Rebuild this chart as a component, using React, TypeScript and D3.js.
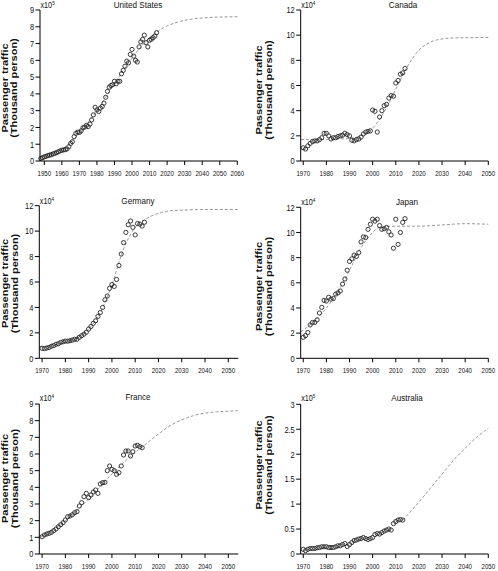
import React from "react";
import * as d3 from "d3";

// ---------- DATA ----------
const usStart = 1948;
const usValues = [0.15, 0.2, 0.25, 0.28, 0.32, 0.35, 0.38, 0.42, 0.46, 0.5, 0.55, 0.6, 0.64, 0.66, 0.68, 0.72, 0.85, 1.05, 1.15, 1.45, 1.65, 1.72, 1.7, 1.8, 1.98, 2.02, 2.12, 2.05, 2.2, 2.45, 2.75, 3.2, 3.05, 2.95, 3.15, 3.25, 3.45, 3.8, 4.15, 4.4, 4.5, 4.55, 4.75, 4.6, 4.75, 4.75, 5.2, 5.4, 5.65, 5.95, 5.85, 6.35, 6.65, 6.25, 6.0, 5.9, 6.8, 7.1, 7.25, 7.5, 7.05, 6.8, 7.2, 7.25, 7.35, 7.45, 7.65];
const usFitYears = [1948, 1955, 1960, 1965, 1970, 1975, 1980, 1985, 1990, 1995, 2000, 2005, 2010, 2015, 2020, 2025, 2030, 2035, 2040, 2045, 2050, 2060];
const usFitValues = [0.2, 0.45, 0.7, 1.1, 1.65, 2.3, 3.0, 3.8, 4.6, 5.4, 6.15, 6.8, 7.35, 7.75, 8.05, 8.25, 8.38, 8.47, 8.52, 8.56, 8.58, 8.6];

const caStart = 1970;
const caValues = [1.05, 0.95, 1.2, 1.4, 1.55, 1.6, 1.6, 1.7, 1.85, 2.2, 2.2, 2.0, 1.75, 1.85, 1.85, 1.95, 2.0, 2.05, 2.2, 2.1, 2.0, 1.65, 1.6, 1.7, 1.75, 1.9, 2.15, 2.3, 2.35, 2.4, 4.05, 3.95, 2.3, 3.5, 4.0, 4.4, 4.5, 5.0, 5.2, 5.15, 6.2, 6.4, 6.9, 7.0, 7.35];
const caFitYears = [1969, 1980, 1990, 1995, 2000, 2005, 2010, 2015, 2020, 2025, 2030, 2035, 2040, 2050];
const caFitValues = [1.7, 1.72, 1.8, 2.0, 2.6, 3.9, 5.7, 7.5, 8.8, 9.45, 9.7, 9.78, 9.8, 9.82];

const deStart = 1970;
const deValues = [0.79, 0.76, 0.8, 0.85, 0.95, 1.0, 1.1, 1.15, 1.25, 1.3, 1.35, 1.35, 1.38, 1.43, 1.5, 1.5, 1.65, 1.78, 1.9, 2.05, 2.3, 2.5, 2.75, 2.95, 3.3, 3.6, 4.0, 4.6, 4.9, 5.5, 5.8, 5.65, 6.2, 7.3, 8.2, 9.1, 9.9, 10.5, 10.8, 10.3, 9.7, 10.6, 10.55, 10.4, 10.7];
const deFitYears = [1969, 1975, 1980, 1985, 1990, 1995, 2000, 2005, 2010, 2015, 2020, 2025, 2030, 2040, 2055];
const deFitValues = [0.9, 1.05, 1.25, 1.6, 2.3, 3.6, 5.8, 8.6, 10.3, 11.0, 11.4, 11.6, 11.65, 11.7, 11.7];

const jpStart = 1970;
const jpValues = [1.67, 1.8, 2.05, 2.65, 2.85, 2.85, 3.05, 3.6, 4.05, 4.6, 4.55, 4.85, 4.7, 4.75, 5.1, 5.2, 5.35, 5.9, 6.3, 7.0, 7.7, 7.9, 8.2, 8.1, 8.4, 9.25, 9.65, 9.6, 10.25, 10.65, 11.05, 10.9, 11.05, 10.55, 10.25, 10.3, 10.4, 10.05, 9.8, 8.75, 11.05, 9.05, 10.0, 10.8, 11.1];
const jpFitYears = [1969, 1975, 1980, 1985, 1990, 1995, 2000, 2003, 2010, 2020, 2030, 2040, 2050];
const jpFitValues = [2.1, 3.0, 4.0, 5.3, 7.0, 8.8, 10.0, 10.4, 10.5, 10.5, 10.6, 10.7, 10.65];

const frStart = 1970;
const frValues = [1.04, 1.14, 1.2, 1.24, 1.3, 1.4, 1.5, 1.64, 1.76, 1.88, 2.04, 2.24, 2.28, 2.36, 2.48, 2.54, 2.88, 3.08, 3.44, 3.64, 3.38, 3.54, 3.72, 3.84, 3.64, 4.2, 4.28, 4.3, 5.0, 5.28, 5.08, 5.0, 4.78, 4.88, 5.28, 5.94, 6.18, 6.18, 5.88, 6.14, 6.48, 6.52, 6.44, 6.38];
const frFitYears = [1969, 1980, 1990, 2000, 2010, 2015, 2020, 2025, 2030, 2035, 2040, 2045, 2050, 2054];
const frFitValues = [1.0, 2.0, 3.3, 4.8, 6.1, 6.65, 7.2, 7.7, 8.05, 8.3, 8.45, 8.53, 8.57, 8.6];

const auStart = 1970;
const auValues = [0.094, 0.067, 0.094, 0.11, 0.11, 0.11, 0.125, 0.13, 0.145, 0.145, 0.145, 0.13, 0.13, 0.13, 0.145, 0.165, 0.165, 0.19, 0.21, 0.15, 0.19, 0.23, 0.27, 0.28, 0.3, 0.31, 0.33, 0.31, 0.29, 0.31, 0.33, 0.39, 0.41, 0.4, 0.43, 0.46, 0.48, 0.5, 0.48, 0.61, 0.65, 0.68, 0.69, 0.68];
const auFitYears = [2013, 2015, 2020, 2025, 2030, 2035, 2040, 2045, 2050];
const auFitValues = [0.68, 0.78, 1.04, 1.32, 1.6, 1.88, 2.12, 2.34, 2.52];

const usXTicks = [1950, 1960, 1970, 1980, 1990, 2000, 2010, 2020, 2030, 2040, 2050, 2060];
const xTicks7050 = [1970, 1980, 1990, 2000, 2010, 2020, 2030, 2040, 2050];
const yTicks9 = [0, 1, 2, 3, 4, 5, 6, 7, 8, 9];
const yTicks12 = [0, 2, 4, 6, 8, 10, 12];
const yTicks3 = [0, 0.5, 1, 1.5, 2, 2.5, 3];

const yLabel1 = "Passenger traffic";
const yLabel2 = "(Thousand person)";

// ---------- LAYOUT ----------
const FONT = "'Liberation Sans', Arial, Helvetica, sans-serif";

type PanelProps = {
  title: string; exp: string;
  start: number; values: number[]; fitYears: number[]; fitValues: number[];
  xTicks: number[]; yTicks: number[];
  xDomain: [number, number]; xRange: [number, number];
  yDomain: [number, number]; yRange: [number, number];
  titleX: number; titleY: number; expY: number;
  lab1X: number; lab2X: number; labY: number;
};

function Txt({ x, y, size, anchor = "start", sx = 0.82, weight = "normal", children }: any) {
  return (
    <text transform={`translate(${x},${y}) scale(${sx},1)`} fontSize={size} textAnchor={anchor}
      fontWeight={weight} fontFamily={FONT} fill="#111">{children}</text>
  );
}

function Panel(p: PanelProps) {
  const x = d3.scaleLinear().domain(p.xDomain).range(p.xRange);
  const y = d3.scaleLinear().domain(p.yDomain).range(p.yRange);
  const [x0, x1] = p.xRange;
  const y0 = p.yRange[0];
  const yTop = p.yRange[1];
  const line = d3.line<[number, number]>().x(d => x(d[0])).y(d => y(d[1])).curve(d3.curveMonotoneX);
  const fit: [number, number][] = p.fitYears.map((yr, i) => [yr, p.fitValues[i]]);
  return (
    <g>
      <path d={line(fit) || ""} fill="none" stroke="#8c8c8c" strokeWidth={0.9} strokeDasharray="3,2" />
      {p.values.map((v, i) => (
        <circle key={i} cx={x(p.start + i)} cy={y(v)} r={2.1} fill="none" stroke="#262626" strokeWidth={0.9} />
      ))}
      <line x1={x0} x2={x0} y1={y0} y2={yTop} stroke="#000" strokeWidth={1} />
      <line x1={x0} x2={x1} y1={y0} y2={y0} stroke="#000" strokeWidth={1} />
      {p.yTicks.map(t => (
        <g key={"y" + t}>
          <line x1={x0 - 4.5} x2={x0} y1={y(t)} y2={y(t)} stroke="#000" strokeWidth={1} />
          <Txt x={x0 - 6} y={y(t) + 3.3} size={9.5} anchor="end" sx={0.78}>{String(t)}</Txt>
        </g>
      ))}
      {p.xTicks.map(t => (
        <g key={"x" + t}>
          <line x1={x(t)} x2={x(t)} y1={y0} y2={y0 + 4} stroke="#000" strokeWidth={1} />
          <Txt x={x(t)} y={y0 + 14.5} size={7} anchor="middle" sx={0.88}>{String(t)}</Txt>
        </g>
      ))}
      <Txt x={p.titleX} y={p.titleY} size={9} anchor="middle" sx={0.9}>{p.title}</Txt>
      <text transform={`translate(${x0 + 0.5},${p.expY}) scale(0.85,1)`} fontSize={8.5} fontFamily={FONT} fill="#111">
        x10<tspan fontSize={5.5} dy={-2.6}>{p.exp}</tspan>
      </text>
      <text transform={`translate(${p.lab1X},${p.labY}) scale(0.75,1) rotate(-90)`} fontSize={11} fontWeight="bold"
        textAnchor="middle" fontFamily={FONT} fill="#111">{yLabel1}</text>
      <text transform={`translate(${p.lab2X},${p.labY}) scale(0.75,1) rotate(-90)`} fontSize={11} fontWeight="bold"
        textAnchor="middle" fontFamily={FONT} fill="#111">{yLabel2}</text>
    </g>
  );
}

export default function App() {
  const panels: PanelProps[] = [
    {
      title: "United States", exp: "5", start: usStart, values: usValues, fitYears: usFitYears, fitValues: usFitValues,
      xTicks: usXTicks, yTicks: yTicks9, xDomain: [1947.55, 2060], xRange: [40, 237.3], yDomain: [0, 9], yRange: [161, 10],
      titleX: 138, titleY: 8, expY: 8, lab1X: 8, lab2X: 16.5, labY: 88,
    },
    {
      title: "Canada", exp: "4", start: caStart, values: caValues, fitYears: caFitYears, fitValues: caFitValues,
      xTicks: xTicks7050, yTicks: yTicks12, xDomain: [1968.9, 2050], xRange: [300.7, 488.3], yDomain: [0, 12], yRange: [161, 10],
      titleX: 403, titleY: 8, expY: 8, lab1X: 262, lab2X: 271.5, labY: 90,
    },
    {
      title: "Germany", exp: "4", start: deStart, values: deValues, fitYears: deFitYears, fitValues: deFitValues,
      xTicks: xTicks7050, yTicks: yTicks12, xDomain: [1968.8, 2054.3], xRange: [39.3, 238.3], yDomain: [0, 12], yRange: [358.3, 205.7],
      titleX: 138, titleY: 203.5, expY: 204, lab1X: 8, lab2X: 17.5, labY: 283.5,
    },
    {
      title: "Japan", exp: "4", start: jpStart, values: jpValues, fitYears: jpFitYears, fitValues: jpFitValues,
      xTicks: xTicks7050, yTicks: yTicks12, xDomain: [1968.9, 2050], xRange: [300.7, 488.3], yDomain: [0, 12], yRange: [358.3, 207.3],
      titleX: 407, titleY: 204.5, expY: 205, lab1X: 262, lab2X: 271.5, labY: 286.5,
    },
    {
      title: "France", exp: "4", start: frStart, values: frValues, fitYears: frFitYears, fitValues: frFitValues,
      xTicks: xTicks7050, yTicks: yTicks9, xDomain: [1968.8, 2054.3], xRange: [39.3, 238.3], yDomain: [0, 9], yRange: [554, 404],
      titleX: 138, titleY: 400, expY: 400.5, lab1X: 8, lab2X: 17.5, labY: 478.5,
    },
    {
      title: "Australia", exp: "5", start: auStart, values: auValues, fitYears: auFitYears, fitValues: auFitValues,
      xTicks: xTicks7050, yTicks: yTicks3, xDomain: [1968.9, 2050], xRange: [300.7, 488.3], yDomain: [0, 3], yRange: [554, 404.3],
      titleX: 407, titleY: 400.5, expY: 400.5, lab1X: 262, lab2X: 271.5, labY: 465,
    },
  ];
  return (
    <svg width={498} height={571} style={{ position: "absolute", left: 0, top: 0, background: "#fff" }}>
      <rect width={498} height={571} fill="#fff" />
      {panels.map(p => <Panel key={p.title} {...p} />)}
    </svg>
  );
}
